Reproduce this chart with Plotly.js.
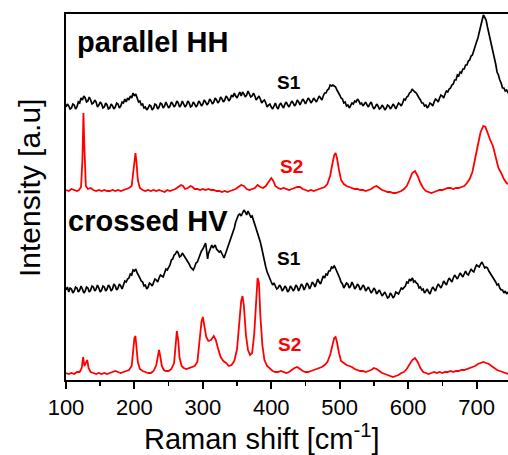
<!DOCTYPE html>
<html>
<head>
<meta charset="utf-8">
<script src="https://cdn.plot.ly/plotly-3.0.1.min.js"></script>
<style>html,body{margin:0;padding:0;background:#fff;}#chart{width:508px;height:455px;}</style>
</head>
<body>
<div id="chart"></div>
<script>
// ---- DATA: [Raman shift cm^-1, intensity (a.u.) above the spectrum's own baseline] ----
const hhS1 = [[100,3],[102,6],[104,4],[106,1],[108,2],[110,6],[112,5],[114,1],[116,3],[118,8],[120,7],[122,12],[124,10],[126,14],[128,12],[130,8],[132,9],[134,13],[136,10],[138,6],[140,7],[142,10],[144,8],[146,3],[148,5],[150,8],[152,6],[154,2],[156,3],[158,7],[160,5],[162,1],[164,2],[166,6],[168,4],[170,1],[172,3],[174,7],[176,6],[178,2],[180,4],[182,8],[184,7],[186,11],[188,8],[190,12],[192,10],[194,14],[196,12],[198,17],[200,14],[202,16],[204,12],[206,8],[208,9],[210,5],[212,6],[214,2],[216,3],[218,0],[220,2],[222,5],[224,4],[226,0],[228,2],[230,6],[232,5],[234,1],[236,3],[238,7],[240,6],[242,2],[244,4],[246,8],[248,5],[250,2],[252,4],[254,8],[256,6],[258,3],[260,5],[262,9],[264,7],[266,3],[268,5],[270,9],[272,6],[274,3],[276,5],[278,9],[280,7],[282,3],[284,4],[286,8],[288,6],[290,3],[292,5],[294,9],[296,7],[298,4],[300,6],[302,10],[304,8],[306,5],[308,7],[310,11],[312,9],[314,6],[316,8],[318,12],[320,10],[322,7],[324,9],[326,13],[328,11],[330,8],[332,10],[334,14],[336,12],[338,9],[340,11],[342,15],[344,13],[346,17],[348,14],[350,12],[352,15],[354,18],[356,14],[358,18],[360,16],[362,13],[364,15],[366,19],[368,16],[370,13],[372,14],[374,17],[376,14],[378,10],[380,12],[382,14],[384,11],[386,7],[388,9],[390,10],[392,7],[394,3],[396,5],[398,6],[400,3],[402,1],[404,4],[406,7],[408,3],[410,1],[412,5],[414,7],[416,4],[418,2],[420,6],[422,8],[424,5],[426,3],[428,6],[430,9],[432,7],[434,4],[436,6],[438,10],[440,8],[442,5],[444,8],[446,11],[448,9],[450,6],[452,9],[454,12],[456,10],[458,7],[460,9],[462,12],[464,10],[466,8],[468,11],[470,14],[472,12],[474,10],[476,14],[478,17],[480,17],[482,20],[484,21],[486,25],[488,24],[490,25],[492,24],[494,23],[496,20],[498,18],[500,15],[502,12],[504,11],[506,7],[508,8],[510,4],[512,5],[514,2],[516,4],[518,7],[520,6],[522,9],[524,8],[526,11],[528,9],[530,6],[532,7],[534,4],[536,6],[538,8],[540,5],[542,3],[544,6],[546,8],[548,4],[550,1],[552,3],[554,6],[556,4],[558,1],[560,2],[562,5],[564,3],[566,0],[568,2],[570,5],[572,4],[574,1],[576,3],[578,6],[580,4],[582,1],[584,4],[586,7],[588,6],[590,4],[592,7],[594,11],[596,10],[598,13],[600,14],[602,17],[604,18],[606,21],[607,20],[608,19],[610,18],[612,17],[614,14],[616,12],[618,10],[620,7],[622,7],[624,4],[626,5],[628,2],[630,4],[632,7],[634,6],[636,4],[638,8],[640,11],[642,10],[644,8],[646,12],[648,15],[650,14],[652,12],[654,16],[656,19],[658,18],[660,21],[662,22],[664,25],[666,26],[668,30],[670,30],[672,35],[674,34],[676,38],[678,37],[680,41],[682,41],[684,45],[686,45],[688,49],[690,50],[692,54],[694,55],[696,60],[698,63],[700,68],[702,72],[704,78],[706,84],[708,90],[709,92],[710,95],[711,94],[712,93],[714,90],[716,83],[717,80],[718,76],[720,70],[722,63],[724,58],[726,51],[728,46],[730,38],[732,35],[734,30],[736,27],[738,22],[740,22],[742,19],[744,20],[746,17],[748,19]];

const hhS2 = [[100,2],[104,1],[108,3],[112,2],[116,1],[119,2],[122,5],[124,32],[125.5,79],[127,42],[129,6],[132,3],[136,4],[140,2],[144,1],[148,2],[152,1],[156,2],[160,1],[164,1],[168,2],[172,1],[176,2],[180,1],[184,2],[188,3],[192,4],[196,6],[198,17],[200,34],[201.5,39],[203,30],[205,12],[208,4],[212,2],[216,1],[220,2],[224,1],[228,2],[232,1],[236,2],[240,1],[244,0],[248,2],[252,1],[256,2],[260,3],[264,5],[268,7],[271,6],[274,3],[278,4],[282,6],[285,5],[288,3],[292,3],[296,2],[300,3],[304,2],[308,3],[312,2],[316,2],[320,1],[324,1],[328,0],[332,1],[336,0],[340,1],[344,2],[348,3],[352,5],[356,7],[360,6],[364,3],[368,2],[372,3],[376,4],[380,7],[384,5],[388,4],[392,6],[396,10],[400,14],[403,11],[406,6],[410,4],[414,3],[418,4],[422,3],[426,2],[430,3],[434,4],[438,5],[442,5],[446,3],[450,2],[454,1],[458,2],[462,1],[466,2],[470,3],[474,4],[478,5],[482,8],[486,16],[489,27],[492,37],[494,39],[496,34],[499,22],[502,12],[506,8],[510,6],[514,5],[518,4],[522,3],[526,3],[530,2],[534,2],[538,1],[542,2],[546,3],[550,5],[554,6],[558,4],[562,2],[566,1],[570,0],[574,0],[578,-1],[582,-1],[586,0],[590,1],[594,3],[598,6],[602,12],[606,19],[610,21],[614,16],[618,9],[622,4],[626,1],[630,0],[634,-1],[638,0],[642,1],[646,2],[650,2],[654,3],[658,4],[662,4],[666,3],[670,4],[674,4],[678,5],[682,6],[686,9],[690,13],[694,20],[698,32],[702,47],[706,60],[710,66],[713,65],[716,59],[720,52],[724,46],[728,34],[732,24],[736,19],[740,13],[744,9],[748,7]];

const hvS1 = [[100,2],[102,5],[104,0],[106,4],[108,3],[110,-1],[112,1],[114,5],[116,4],[118,0],[120,2],[122,6],[124,3],[126,-1],[128,1],[130,5],[132,4],[134,0],[136,2],[138,6],[140,5],[142,1],[144,3],[146,7],[148,4],[150,0],[152,2],[154,6],[156,5],[158,1],[160,3],[162,7],[164,5],[166,1],[168,3],[170,8],[172,6],[174,2],[176,4],[178,8],[180,6],[182,3],[184,7],[186,11],[188,10],[190,13],[192,14],[194,18],[196,17],[198,22],[200,21],[202,23],[204,19],[206,17],[208,14],[210,11],[212,10],[214,6],[216,7],[218,3],[220,5],[222,9],[224,8],[226,6],[228,10],[230,13],[232,12],[234,10],[236,14],[238,17],[240,16],[242,15],[244,19],[246,23],[248,22],[250,25],[252,27],[254,32],[256,33],[258,37],[260,38],[262,41],[264,39],[266,35],[268,36],[270,39],[272,37],[274,34],[276,32],[278,30],[280,28],[282,25],[284,23],[286,22],[288,25],[290,29],[292,30],[294,34],[296,36],[298,41],[300,43],[302,47],[304,49],[305,44],[307,33],[308,38],[310,42],[312,46],[313,47],[315,44],[316,45],[318,47],[320,43],[322,41],[324,40],[326,41],[328,38],[330,36],[331,34],[333,38],[334,40],[336,44],[338,46],[340,50],[342,54],[344,59],[346,64],[348,70],[350,73],[352,77],[354,78],[356,76],[358,79],[360,82],[362,80],[364,77],[366,81],[368,78],[370,75],[372,76],[374,72],[376,67],[378,64],[380,60],[382,56],[384,50],[386,44],[388,37],[390,31],[392,25],[394,20],[396,16],[398,12],[400,10],[402,7],[404,9],[406,6],[408,3],[410,4],[412,7],[414,5],[416,1],[418,3],[420,6],[422,4],[424,0],[426,2],[428,6],[430,4],[432,1],[434,3],[436,7],[438,5],[440,1],[442,4],[444,8],[446,6],[448,2],[450,5],[452,9],[454,7],[456,3],[458,6],[460,10],[462,8],[464,5],[466,9],[468,13],[470,10],[472,8],[474,12],[476,16],[478,14],[480,18],[482,17],[484,21],[486,21],[488,25],[490,24],[492,26],[493,25],[495,22],[496,21],[498,17],[500,14],[502,10],[504,8],[506,4],[508,6],[510,9],[512,8],[514,4],[516,6],[518,10],[520,7],[522,3],[524,5],[526,8],[528,6],[530,2],[532,4],[534,7],[536,5],[538,1],[540,3],[542,5],[544,2],[546,-1],[548,1],[550,4],[552,2],[554,-2],[556,0],[558,2],[560,-1],[562,-4],[564,-2],[566,0],[568,-3],[570,-6],[572,-5],[574,-1],[576,-3],[578,-6],[580,-4],[582,0],[584,-1],[586,-2],[588,1],[590,4],[592,3],[594,5],[596,6],[598,10],[600,9],[602,13],[604,11],[606,14],[607,13],[608,10],[610,11],[612,9],[614,8],[616,4],[618,5],[620,2],[622,3],[624,-1],[626,1],[628,3],[630,0],[632,-2],[634,2],[636,5],[638,3],[640,1],[642,5],[644,8],[646,6],[648,4],[650,7],[652,11],[654,9],[656,7],[658,11],[660,14],[662,12],[664,10],[666,14],[668,17],[670,15],[672,13],[674,16],[676,19],[678,17],[680,15],[682,18],[684,21],[686,18],[688,17],[690,20],[692,23],[694,21],[696,20],[698,24],[700,27],[702,26],[704,25],[706,28],[708,30],[710,27],[712,24],[714,25],[716,24],[718,21],[720,19],[722,17],[724,15],[726,12],[728,10],[730,7],[732,8],[734,4],[736,2],[738,2],[740,-1],[742,1],[744,-2],[746,0]];

const hvS2 = [[100,2],[104,1],[108,2],[112,1],[116,3],[120,3],[123,7],[125,18],[127,9],[129,13],[131,15],[133,7],[136,3],[140,2],[144,1],[148,2],[152,1],[156,2],[160,1],[164,2],[168,3],[172,4],[176,3],[180,2],[184,3],[188,4],[192,5],[196,9],[198,23],[200,37],[201.5,39],[203,30],[205,13],[208,6],[212,4],[216,3],[220,2],[224,2],[228,4],[232,10],[234,20],[236,25],[238,18],[240,9],[243,5],[246,4],[250,4],[254,6],[258,12],[260,30],[262,44],[264,35],[266,17],[269,9],[272,7],[276,6],[280,7],[284,8],[288,9],[292,13],[295,30],[298,53],[300,58],[302,51],[305,38],[308,34],[312,35],[316,39],[319,35],[322,27],[326,18],[330,14],[334,12],[338,9],[342,10],[346,14],[350,26],[353,50],[356,74],[358,79],[360,69],[363,40],[366,25],[369,20],[372,22],[375,40],[378,75],[380,97],[382,92],[384,60],[387,30],[390,15],[394,9],[398,6],[402,4],[406,3],[410,3],[414,4],[418,3],[422,2],[426,3],[430,5],[434,7],[438,8],[442,6],[446,4],[450,3],[454,3],[458,4],[462,5],[466,6],[470,7],[474,8],[478,10],[482,13],[486,20],[489,30],[492,37],[494,38],[496,33],[499,22],[502,14],[506,12],[510,10],[514,9],[518,8],[522,6],[526,5],[530,4],[534,4],[538,3],[542,4],[546,5],[550,7],[554,6],[558,4],[562,2],[566,1],[570,0],[574,-1],[578,-2],[582,-1],[586,0],[590,2],[594,3],[598,6],[602,10],[606,15],[610,17],[614,13],[618,7],[622,3],[626,2],[630,1],[634,2],[638,3],[642,2],[646,3],[650,2],[654,3],[658,3],[662,4],[666,3],[670,4],[674,4],[678,5],[682,5],[686,6],[690,7],[694,8],[698,9],[702,11],[706,12],[710,13],[714,12],[718,11],[722,9],[726,7],[730,5],[734,4],[738,3],[742,2],[746,1]];

const seriesNames = ['parallel HH S1','parallel HH S2','crossed HV S1','crossed HV S2'];
const xTickVals = [100,200,300,400,500,600,700];
const xMinorVals = [150,250,350,450,550,650,750];

// ---- STYLE / POSITION ----
const offsets = [270,188,88,5];
const colors = ['#000000','#ff0000','#000000','#ff0000'];
const widths = [1.7,1.8,1.7,1.8];
const spectra = [hhS1, hhS2, hvS1, hvS2];

const FONT = 'Liberation Sans, Arial, Helvetica, sans-serif';

const traces = spectra.map((s, i) => ({
  type: 'scatter', mode: 'lines', name: seriesNames[i],
  x: s.map(p => p[0]), y: s.map(p => p[1] + offsets[i]),
  line: {color: colors[i], width: widths[i]},
  hoverinfo: 'skip'
}));

// pixel helpers for annotation placement (plot box: left 66, width 442, top 14, height 366)
const px = p => (p - 66) / 442;
const py = p => (380 - p) / 366;

const annotations = [
  {text: '<b>parallel HH</b>', x: px(75), y: py(42), xanchor: 'left', yanchor: 'middle', font: {size: 29, color: '#000'}},
  {text: '<b>crossed HV</b>', x: px(66), y: py(221), xanchor: 'left', yanchor: 'middle', font: {size: 29, color: '#000'}},
  {text: '<b>S1</b>', x: px(289), y: py(82), xanchor: 'center', yanchor: 'middle', font: {size: 19, color: '#000'}},
  {text: '<b>S2</b>', x: px(291), y: py(166), xanchor: 'center', yanchor: 'middle', font: {size: 19, color: '#ff0000'}},
  {text: '<b>S1</b>', x: px(289), y: py(258), xanchor: 'center', yanchor: 'middle', font: {size: 19, color: '#000'}},
  {text: '<b>S2</b>', x: px(289), y: py(344), xanchor: 'center', yanchor: 'middle', font: {size: 19, color: '#ff0000'}},
  {text: 'Raman shift [cm<sup>-1</sup>]', x: px(262), y: py(437), xanchor: 'center', yanchor: 'middle', font: {size: 29, color: '#000'}},
  {text: 'Intensity [a.u]', x: px(29), y: py(188), xanchor: 'center', yanchor: 'middle', textangle: -90, font: {size: 30, color: '#000'}}
].map(a => Object.assign({xref: 'paper', yref: 'paper', showarrow: false}, a));

const layout = {
  width: 508, height: 455,
  margin: {l: 66, r: 0, t: 14, b: 75, pad: 0},
  paper_bgcolor: '#fff', plot_bgcolor: '#fff',
  showlegend: false,
  font: {family: FONT, color: '#000'},
  xaxis: {
    range: [100, 746], tickvals: xTickVals, ticktext: xTickVals.map(String),
    ticks: 'outside', ticklen: 7, tickwidth: 2, tickcolor: '#000',
    minor: {tickvals: xMinorVals, ticks: 'outside', ticklen: 4, tickwidth: 1.5, tickcolor: '#000', showgrid: false},
    showline: true, linewidth: 2, linecolor: '#000', mirror: true,
    showgrid: false, zeroline: false,
    tickfont: {size: 22, family: FONT, color: '#000'}
  },
  yaxis: {
    range: [0, 366], showticklabels: false, ticks: '',
    showline: true, linewidth: 2, linecolor: '#000',
    showgrid: false, zeroline: false
  },
  annotations: annotations
};

Plotly.newPlot('chart', traces, layout, {staticPlot: true, displayModeBar: false});
</script>
</body>
</html>
